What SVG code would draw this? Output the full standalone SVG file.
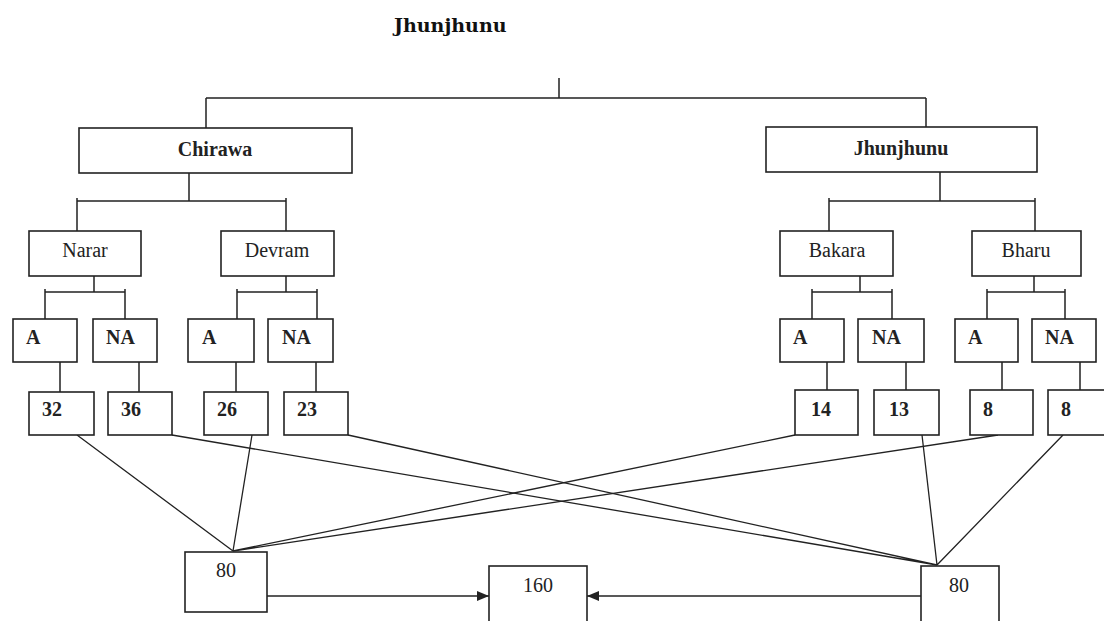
<svg xmlns="http://www.w3.org/2000/svg" width="1104" height="621" viewBox="0 0 1104 621">
<defs>
<style>
.box{fill:#fff;stroke:#222;stroke-width:1.6}
.ln{fill:none;stroke:#222;stroke-width:1.5}
.dl{fill:none;stroke:#222;stroke-width:1.3}
.t{font-family:"Liberation Serif","Times New Roman",serif;font-size:20px;fill:#222}
.b{font-weight:bold}
.title{font-family:"DejaVu Serif",serif;font-weight:bold;font-size:19px;fill:#111}
</style>
<marker id="ah" viewBox="0 0 12 10" refX="12" refY="5" markerWidth="12" markerHeight="10" markerUnits="userSpaceOnUse" orient="auto">
<path d="M0,0 L12,5 L0,10 Z" fill="#222"/>
</marker>
</defs>
<rect width="1104" height="621" fill="#fff"/>
<text class="title" x="394" y="32">Jhunjhunu</text>

<g id="connectors">
<path class="ln" d="M559,78 V98 M206,98 H926 M206,98 V128 M926,98 V127"/>
<path class="ln" d="M189,173 V201 M77,201 H286 M77,198 V231 M286,198 V231"/>
<path class="ln" d="M940,172 V201 M829,201 H1035 M829,198 V231 M1035,198 V231"/>
<path class="ln" d="M94,276 V292 M45,292 H125 M45,289 V319 M125,289 V319"/>
<path class="ln" d="M286,276 V292 M237,292 H317 M237,289 V319 M317,289 V319"/>
<path class="ln" d="M860,276 V292 M812,292 H892 M812,289 V319 M892,289 V319"/>
<path class="ln" d="M1034,276 V292 M987,292 H1065 M987,289 V319 M1065,289 V319"/>
<path class="ln" d="M60,362 V392 M139,362 V392 M236,362 V392 M316,362 V392 M827,362 V390 M906,362 V390 M1002,362 V390 M1080,362 V390"/>
<path class="dl" d="M77,435 L233,551 M252,435 L233,551 M795,435 L233,551 M998,435 L233,551"/>
<path class="dl" d="M172,435 L937,565 M348,435 L937,565 M922,435 L937,565 M1063,435 L937,565"/>
<path class="dl" d="M267,596 H489" marker-end="url(#ah)"/>
<path class="dl" d="M921,596 H587" marker-end="url(#ah)"/>
</g>

<g id="n-chirawa"><rect class="box" x="79" y="128" width="273" height="45"/><text class="t b" x="215" y="156" text-anchor="middle">Chirawa</text></g>
<g id="n-jhunjhunu"><rect class="box" x="766" y="127" width="271" height="45"/><text class="t b" x="901" y="155" text-anchor="middle">Jhunjhunu</text></g>

<g id="n-narar"><rect class="box" x="29" y="231" width="112" height="45"/><text class="t" x="85" y="257" text-anchor="middle">Narar</text></g>
<g id="n-devram"><rect class="box" x="221" y="231" width="113" height="45"/><text class="t" x="277" y="257" text-anchor="middle">Devram</text></g>
<g id="n-bakara"><rect class="box" x="780" y="231" width="113" height="45"/><text class="t" x="837" y="257" text-anchor="middle">Bakara</text></g>
<g id="n-bharu"><rect class="box" x="972" y="231" width="109" height="45"/><text class="t" x="1026" y="257" text-anchor="middle">Bharu</text></g>

<g id="n-a1"><rect class="box" x="13" y="319" width="64" height="43"/><text class="t b" x="26" y="344">A</text></g>
<g id="n-na1"><rect class="box" x="93" y="319" width="64" height="43"/><text class="t b" x="106" y="344">NA</text></g>
<g id="n-a2"><rect class="box" x="188" y="319" width="66" height="43"/><text class="t b" x="202" y="344">A</text></g>
<g id="n-na2"><rect class="box" x="268" y="319" width="65" height="43"/><text class="t b" x="282" y="344">NA</text></g>
<g id="n-a3"><rect class="box" x="780" y="319" width="64" height="43"/><text class="t b" x="793" y="344">A</text></g>
<g id="n-na3"><rect class="box" x="858" y="319" width="66" height="43"/><text class="t b" x="872" y="344">NA</text></g>
<g id="n-a4"><rect class="box" x="955" y="319" width="63" height="43"/><text class="t b" x="968" y="344">A</text></g>
<g id="n-na4"><rect class="box" x="1032" y="319" width="64" height="43"/><text class="t b" x="1045" y="344">NA</text></g>

<g id="n-32"><rect class="box" x="29" y="392" width="65" height="43"/><text class="t b" x="42" y="416">32</text></g>
<g id="n-36"><rect class="box" x="108" y="392" width="64" height="43"/><text class="t b" x="121" y="416">36</text></g>
<g id="n-26"><rect class="box" x="204" y="392" width="64" height="43"/><text class="t b" x="217" y="416">26</text></g>
<g id="n-23"><rect class="box" x="284" y="392" width="64" height="43"/><text class="t b" x="297" y="416">23</text></g>
<g id="n-14"><rect class="box" x="795" y="390" width="63" height="45"/><text class="t b" x="811" y="416">14</text></g>
<g id="n-13"><rect class="box" x="874" y="390" width="65" height="45"/><text class="t b" x="889" y="416">13</text></g>
<g id="n-8a"><rect class="box" x="970" y="390" width="63" height="45"/><text class="t b" x="983" y="416">8</text></g>
<g id="n-8b"><rect class="box" x="1048" y="390" width="70" height="45"/><text class="t b" x="1061" y="416">8</text></g>

<g id="n-80l"><rect class="box" x="185" y="552" width="82" height="60"/><text class="t" x="226" y="577" text-anchor="middle">80</text></g>
<g id="n-160"><rect class="box" x="489" y="566" width="98" height="70"/><text class="t" x="538" y="592" text-anchor="middle">160</text></g>
<g id="n-80r"><rect class="box" x="921" y="566" width="78" height="70"/><text class="t" x="959" y="592" text-anchor="middle">80</text></g>
</svg>
